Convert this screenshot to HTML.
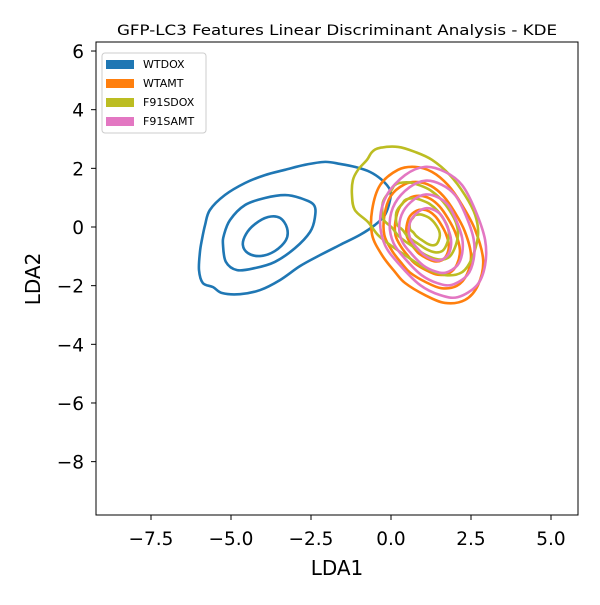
<!DOCTYPE html>
<html><head><meta charset="utf-8"><style>
body{margin:0;background:#fff;}
svg text{font-family:"DejaVu Sans","Liberation Sans",sans-serif;fill:#000;}
</style></head><body>
<svg id="chart" width="600" height="600" viewBox="0 0 600 600" xmlns="http://www.w3.org/2000/svg">
<rect width="600" height="600" fill="#fff"/>
<text x="337" y="35" font-size="14.5" text-anchor="middle" textLength="440" lengthAdjust="spacingAndGlyphs">GFP-LC3 Features Linear Discriminant Analysis - KDE</text>
<g id="marks"></g>
<g id="axes"></g>
<rect x="96" y="42" width="482" height="473" fill="none" stroke="#000" stroke-width="1"/>
<text x="337" y="575" font-size="20" text-anchor="middle">LDA1</text>
<text transform="translate(40,279) rotate(-90)" font-size="20" text-anchor="middle">LDA2</text>
<g>
<rect x="102" y="53" width="104" height="80" rx="3" fill="#fff" stroke="#ccc" stroke-width="1"/>
<g><rect x="106" y="60" width="28" height="9" fill="#1f77b4"/><text x="143" y="68" font-size="11">WTDOX</text></g>
<g><rect x="106" y="79" width="28" height="9" fill="#ff7f0e"/><text x="143" y="87" font-size="11">WTAMT</text></g>
<g><rect x="106" y="98" width="28" height="9" fill="#bcbd22"/><text x="143" y="106" font-size="11">F91SDOX</text></g>
<g><rect x="106" y="117" width="28" height="9" fill="#e377c2"/><text x="143" y="125" font-size="11">F91SAMT</text></g>
</g>
</svg>
<script>
const xTicks=[-7.5,-5,-2.5,0,2.5,5];
const xTickLabels=["−7.5","−5.0","−2.5","0.0","2.5","5.0"];
const yTicks=[6,4,2,0,-2,-4,-6,-8];
const yTickLabels=["6","4","2","0","−2","−4","−6","−8"];
const wtdoxOuter=[[-5.97,-0.85],[-6.0,-1.47],[-5.88,-1.91],[-5.56,-2.05],[-5.28,-2.25],[-4.72,-2.29],[-4.09,-2.15],[-3.47,-1.81],[-2.84,-1.33],[-2.22,-0.96],[-1.59,-0.61],[-0.97,-0.27],[-0.5,0.07],[-0.19,0.41],[-0.03,0.92],[-0.03,1.26],[-0.28,1.6],[-0.66,1.88],[-1.13,2.05],[-1.59,2.15],[-2.06,2.22],[-2.69,2.12],[-3.31,1.95],[-3.94,1.77],[-4.56,1.5],[-5.19,1.09],[-5.66,0.58],[-5.81,0.07],[-5.91,-0.44]];
const wtdoxMid=[[-5.25,-0.61],[-5.16,-1.19],[-4.81,-1.47],[-4.25,-1.4],[-3.63,-1.19],[-3.0,-0.72],[-2.53,-0.17],[-2.38,0.31],[-2.41,0.75],[-2.84,0.99],[-3.31,1.09],[-3.94,0.99],[-4.56,0.75],[-5.03,0.24],[-5.22,-0.27]];
const wtdoxInner=[[-4.63,-0.61],[-4.47,-0.89],[-4.09,-0.99],[-3.63,-0.82],[-3.28,-0.44],[-3.25,-0.03],[-3.47,0.31],[-3.84,0.34],[-4.25,0.1],[-4.53,-0.24]];
const f91sdoxOuter=[[-0.59,2.56],[-0.34,2.7],[0.22,2.73],[0.75,2.56],[1.28,2.29],[1.84,1.77],[2.31,1.09],[2.63,0.41],[2.72,-0.27],[2.53,-1.06],[2.22,-1.54],[1.69,-1.64],[1.06,-1.4],[0.44,-0.96],[-0.03,-0.61],[-0.41,-0.27],[-0.72,0.17],[-1.13,0.58],[-1.22,1.09],[-1.19,1.6],[-1.03,1.95],[-0.75,2.29]];
const wtamtOuter=[[0.22,1.95],[0.75,2.05],[1.28,1.88],[1.78,1.43],[2.22,0.75],[2.63,-0.1],[2.88,-1.13],[2.72,-1.98],[2.31,-2.49],[1.69,-2.59],[1.06,-2.32],[0.44,-1.91],[0.13,-1.54],[-0.28,-0.96],[-0.59,-0.27],[-0.59,0.58],[-0.34,1.43]];
const f91samtOuter=[[0.44,1.77],[1.06,2.05],[1.69,1.88],[2.22,1.43],[2.63,0.58],[2.94,-0.44],[2.94,-1.3],[2.69,-1.98],[2.09,-2.39],[1.53,-2.32],[0.91,-1.98],[0.28,-1.3],[-0.19,-0.61],[-0.34,0.24],[-0.13,1.09]];
const f91sdoxLevels=[1,0.6,0.42,0.24];
const wtamtLevels=[1,0.78,0.58,0.38];
const f91samtLevels=[1,0.8,0.6,0.4];
const clusterCenter=[1.15,-0.3];

const X=v=>391+v*32;
const Y=v=>227-v*29.33;
const NS="http://www.w3.org/2000/svg";
const marks=document.getElementById('marks');
const axes=document.getElementById('axes');

function smoothPath(pts){
  const p=pts.map(d=>[X(d[0]),Y(d[1])]);const n=p.length;
  let s=`M${p[0][0]},${p[0][1]}`;
  for(let i=0;i<n;i++){
    const p0=p[(i-1+n)%n],p1=p[i],p2=p[(i+1)%n],p3=p[(i+2)%n];
    const c1=[p1[0]+(p2[0]-p0[0])/6,p1[1]+(p2[1]-p0[1])/6];
    const c2=[p2[0]-(p3[0]-p1[0])/6,p2[1]-(p3[1]-p1[1])/6];
    s+=`C${c1[0]},${c1[1]} ${c2[0]},${c2[1]} ${p2[0]},${p2[1]}`;
  }
  return s+'Z';
}
function drawContour(pts,color,name){
  const el=document.createElementNS(NS,'path');
  el.setAttribute('d',smoothPath(pts));
  el.setAttribute('fill','none');el.setAttribute('stroke',color);el.setAttribute('stroke-width','2.6');
  el.setAttribute('stroke-linejoin','round');
  
  
  marks.appendChild(el);
}
function scaled(pts,k){return pts.map(d=>[clusterCenter[0]+(d[0]-clusterCenter[0])*k,clusterCenter[1]+(d[1]-clusterCenter[1])*k]);}

drawContour(wtdoxOuter,'#1f77b4','wtdox-contour-outer');
drawContour(wtdoxMid,'#1f77b4','wtdox-contour-mid');
drawContour(wtdoxInner,'#1f77b4','wtdox-contour-inner');
wtamtLevels.forEach((k,i)=>drawContour(scaled(wtamtOuter,k),'#ff7f0e','wtamt-contour-'+i));
f91sdoxLevels.forEach((k,i)=>drawContour(scaled(f91sdoxOuter,k),'#bcbd22','f91sdox-contour-'+i));
f91samtLevels.forEach((k,i)=>drawContour(scaled(f91samtOuter,k),'#e377c2','f91samt-contour-'+i));

xTicks.forEach((t,i)=>{
  const l=document.createElementNS(NS,'line');
  l.setAttribute('x1',X(t));l.setAttribute('x2',X(t));l.setAttribute('y1',515);l.setAttribute('y2',520);l.setAttribute('stroke','#000');
  
  
  axes.appendChild(l);
  const tx=document.createElementNS(NS,'text');
  tx.setAttribute('x',X(t));tx.setAttribute('y',545);tx.setAttribute('font-size','18.5');tx.setAttribute('text-anchor','middle');
  tx.textContent=xTickLabels[i];
  
  
  axes.appendChild(tx);
});
yTicks.forEach((t,i)=>{
  const l=document.createElementNS(NS,'line');
  l.setAttribute('x1',91);l.setAttribute('x2',96);l.setAttribute('y1',Y(t));l.setAttribute('y2',Y(t));l.setAttribute('stroke','#000');
  
  
  axes.appendChild(l);
  const tx=document.createElementNS(NS,'text');
  tx.setAttribute('x',84);tx.setAttribute('y',Y(t)+7);tx.setAttribute('font-size','18.5');tx.setAttribute('text-anchor','end');
  tx.textContent=yTickLabels[i];
  
  
  axes.appendChild(tx);
});
</script>
</body></html>
